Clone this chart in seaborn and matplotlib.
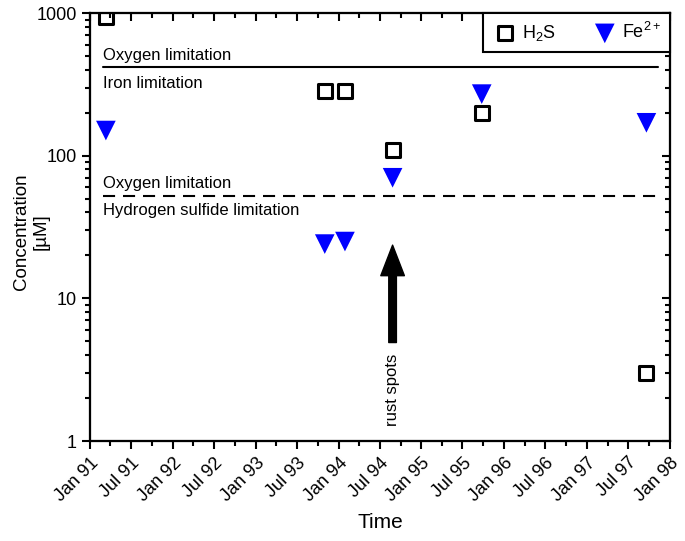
import matplotlib
matplotlib.use("Agg")
import matplotlib.pyplot as plt
import matplotlib.dates as mdates
import matplotlib.ticker as mticker
import numpy as np
import pandas as pd
import seaborn as sns

# sampling dates and concentrations [uM]
h2s_dates = ['1991-03-12', '1993-11-01', '1994-01-29', '1994-08-27', '1995-09-24', '1997-09-19']
h2s_conc = [930, 285, 285, 110, 200, 3]
fe_dates = ['1991-03-12', '1993-11-01', '1994-01-29', '1994-08-27', '1995-09-24', '1997-09-19']
fe_conc = [150, 24, 25, 70, 270, 170]

# limitation thresholds
limit_dates = ['1991-02-28', '1997-11-08']
oxygen_iron_limit = 420
oxygen_sulfide_limit = 52

# rust spots arrow
rust_date = '1994-08-27'
rust_tip = 23.6
rust_tail = 4.9
rust_text_y = 2.28

sns.set_style('ticks')
plt.rcParams['font.family'] = ['Liberation Sans', 'DejaVu Sans']
plt.rcParams['mathtext.fontset'] = 'custom'
plt.rcParams['mathtext.rm'] = 'Liberation Sans'
plt.rcParams['mathtext.it'] = 'Liberation Sans:italic'
plt.rcParams['axes.linewidth'] = 1.5
for key in ['text.color', 'axes.labelcolor', 'xtick.color', 'ytick.color', 'axes.edgecolor']:
    plt.rcParams[key] = 'black'

df_h2s = pd.DataFrame({'Time': pd.to_datetime(h2s_dates), 'Conc': h2s_conc})
df_fe = pd.DataFrame({'Time': pd.to_datetime(fe_dates), 'Conc': fe_conc})

fig = plt.figure(figsize=(6.85, 5.41), dpi=100)
ax = fig.add_axes([90 / 685, 100 / 541, 580 / 685, 428 / 541])

sns.scatterplot(data=df_h2s, x='Time', y='Conc', marker='s', s=100, facecolor='none',
                edgecolor='black', linewidth=2.2, label=r'H$_\mathrm{2}$S', ax=ax, zorder=3)
sns.scatterplot(data=df_fe, x='Time', y='Conc', marker='v', s=200, color='blue',
                edgecolor='none', linewidth=0, label=r'Fe$^{\mathrm{2+}}$', ax=ax, zorder=3)

ld = pd.to_datetime(limit_dates)
ax.plot(ld, [oxygen_iron_limit] * 2, color='black', lw=1.5)
ax.plot(ld, [oxygen_sulfide_limit] * 2, color='black', lw=1.5, linestyle=(0, (5.8, 3.8)))

fs = 12
ax.annotate('Oxygen limitation', xy=(ld[0], oxygen_iron_limit), xytext=(0, 4.8),
            textcoords='offset points', va='baseline', ha='left', fontsize=fs)
ax.annotate('Iron limitation', xy=(ld[0], oxygen_iron_limit), xytext=(0, -6.5),
            textcoords='offset points', va='top', ha='left', fontsize=fs)
ax.annotate('Oxygen limitation', xy=(ld[0], oxygen_sulfide_limit), xytext=(0, 6.0),
            textcoords='offset points', va='baseline', ha='left', fontsize=fs)
ax.annotate('Hydrogen sulfide limitation', xy=(ld[0], oxygen_sulfide_limit), xytext=(0, -4.8),
            textcoords='offset points', va='top', ha='left', fontsize=fs)

rd = pd.to_datetime(rust_date)
ax.annotate('', xy=(rd, rust_tip), xytext=(rd, rust_tail),
            arrowprops=dict(width=5.5, headwidth=17, headlength=22, color='black', shrink=0))
ax.text(rd, rust_text_y, 'rust spots', rotation=90, ha='center', va='center', fontsize=fs)

ax.set_yscale('log')
ax.set_ylim(1, 1000)
ax.set_xlim(pd.Timestamp('1991-01-01'), pd.Timestamp('1998-01-01'))
ax.yaxis.set_major_locator(mticker.LogLocator(base=10))
ax.yaxis.set_minor_locator(mticker.LogLocator(base=10, subs=np.arange(2, 10)))
ax.yaxis.set_major_formatter(mticker.FuncFormatter(lambda v, p: f'{v:g}'))
ax.yaxis.set_minor_formatter(mticker.NullFormatter())

ax.xaxis.set_major_locator(mdates.MonthLocator(bymonth=[1, 7]))
ax.xaxis.set_minor_locator(mdates.MonthLocator(bymonth=[4, 10]))
ax.xaxis.set_major_formatter(mdates.DateFormatter('%b %y'))
for lab in ax.get_xticklabels():
    lab.set_rotation(45)
    lab.set_ha('right')
    lab.set_rotation_mode('anchor')

ax.tick_params(which='major', direction='out', length=6, width=1.5, labelsize=13, colors='black')
ax.tick_params(which='minor', direction='out', length=3.5, width=1.5)

# inward ticks on top and right
ax_t = ax.twiny()
ax_t.set_xlim(ax.get_xlim())
ax_t.xaxis.set_major_locator(mdates.MonthLocator(bymonth=[1, 7]))
ax_t.xaxis.set_minor_locator(mdates.MonthLocator(bymonth=[4, 10]))
ax_t.tick_params(which='major', direction='in', length=6, width=1.5, labeltop=False)
ax_t.tick_params(which='minor', direction='in', length=3.5, width=1.5)
ax_r = ax.twinx()
ax_r.set_yscale('log')
ax_r.set_ylim(1, 1000)
ax_r.yaxis.set_minor_locator(mticker.LogLocator(base=10, subs=np.arange(2, 10)))
ax_r.tick_params(which='major', direction='in', length=6, width=1.5, labelright=False)
ax_r.tick_params(which='minor', direction='in', length=3.5, width=1.5, labelright=False)

ax.set_xlabel('Time', fontsize=15, labelpad=6)
ax.set_ylabel('Concentration\n[µM]', fontsize=13.5, ha='center', va='bottom')
ax.yaxis.set_label_coords(-0.07, 0.49)

leg = ax.legend(loc='upper right', ncol=2, frameon=True, fancybox=False, fontsize=13,
                borderaxespad=0, edgecolor='black', handlelength=1.4, handletextpad=0.25,
                columnspacing=2.0, borderpad=0.5)
leg.get_frame().set_linewidth(1.5)
leg.get_frame().set_alpha(1)
leg.set_zorder(5)
ax.set_zorder(ax_r.get_zorder() + 1)
ax.patch.set_visible(False)

fig.savefig('out.png', dpi=100)
